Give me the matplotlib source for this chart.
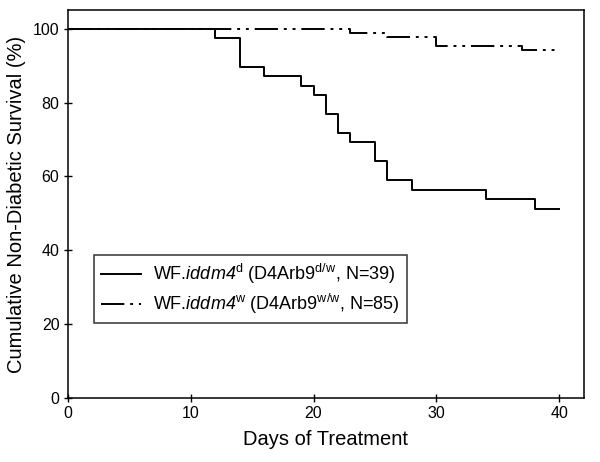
import matplotlib
matplotlib.use("Agg")
import matplotlib.pyplot as plt

plt.rcParams["font.family"] = ["Liberation Sans", "DejaVu Sans"]
plt.rcParams["mathtext.fontset"] = "custom"
plt.rcParams["mathtext.rm"] = "Liberation Sans"
plt.rcParams["mathtext.sf"] = "Liberation Sans:italic"

# survival steps (day, % non-diabetic)
days_d = [0, 12, 14, 16, 19, 20, 21, 22, 23, 25, 26, 28, 34, 38, 40]
surv_d = [100, 97.4, 89.7, 87.2, 84.6, 82.1, 76.9, 71.8, 69.2, 64.1, 59.0, 56.4, 53.8, 51.3, 51.3]

days_w = [0, 23, 26, 30, 37, 40]
surv_w = [100, 98.8, 97.6, 95.3, 94.1, 94.1]

# \mathsf is mapped to the italic face so the "4" is slanted as well
label_d = r"WF.$\mathsf{iddm4}^{\mathrm{d}}$ (D4Arb9$^{\mathrm{d/w}}$, N=39)"
label_w = r"WF.$\mathsf{iddm4}^{\mathrm{w}}$ (D4Arb9$^{\mathrm{w/w}}$, N=85)"

x_ticks = [0, 10, 20, 30, 40]
y_ticks = [0, 20, 40, 60, 80, 100]

fig = plt.figure(figsize=(6, 4.62), dpi=100)
ax = fig.add_axes([0.113, 0.1385, 0.86, 0.8395])

ax.step(days_d, surv_d, where="post", color="black", lw=1.4, label=label_d)
ax.step(days_w, surv_w, where="post", color="black", lw=1.4,
        linestyle=(0, (12, 3, 1.5, 3, 1.5, 3)), label=label_w)

ax.set_xlim(0, 42)
ax.set_ylim(0, 105)
ax.set_xticks(x_ticks)
ax.set_yticks(y_ticks)
ax.tick_params(direction="inout", length=6, width=1, labelsize=11.5, pad=3)
for s in ax.spines.values():
    s.set_linewidth(1.1)

ax.set_xlabel("Days of Treatment", fontsize=14.5, labelpad=6)
ax.set_ylabel("Cumulative Non-Diabetic Survival (%)", fontsize=14.5, labelpad=5)

leg = ax.legend(loc="lower left", bbox_to_anchor=(0.05, 0.193), fontsize=13,
                frameon=True, fancybox=False, edgecolor="black",
                handlelength=2.2, borderpad=0.4, labelspacing=0.3,
                handletextpad=0.7, borderaxespad=0)
leg.get_frame().set_linewidth(1.1)

fig.savefig("out.png", dpi=100)
